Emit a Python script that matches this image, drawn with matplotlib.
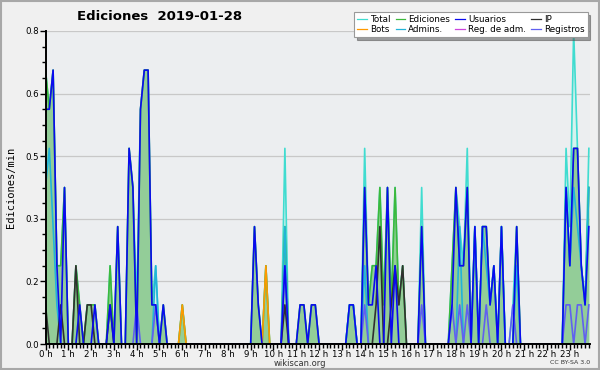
import numpy as np
import matplotlib
matplotlib.use('Agg')
import matplotlib.pyplot as plt
from matplotlib.patches import Rectangle

# edits per 10-minute bin, one row per hour (6 bins each)
total_10min = [
    7, 6, 7, 2, 2, 4,   0, 0, 2, 1, 0, 1,   1, 1, 0, 0, 0, 2,   0, 3, 0, 0, 5, 4,
    1, 6, 7, 7, 1, 2,   0, 1, 0, 0, 0, 0,   1, 0, 0, 0, 0, 0,   0, 0, 0, 0, 0, 0,
    0, 0, 0, 0, 0, 0,   0, 3, 1, 0, 2, 0,   0, 0, 0, 5, 0, 0,   0, 1, 1, 0, 1, 1,
    0, 0, 0, 0, 0, 0,   0, 0, 1, 1, 0, 0,   5, 1, 2, 2, 4, 1,   4, 1, 4, 1, 2, 0,
    0, 0, 0, 4, 0, 0,   0, 0, 0, 0, 0, 2,   4, 3, 2, 5, 0, 3,   0, 3, 3, 1, 2, 0,
    3, 0, 0, 1, 3, 0,   0, 0, 0, 0, 0, 0,   0, 0, 0, 0, 0, 5,   3, 8, 5, 2, 1, 5,
]
ediciones_10min = [
    7, 6, 7, 2, 2, 4,   0, 0, 2, 1, 0, 1,   1, 1, 0, 0, 0, 2,   0, 3, 0, 0, 5, 4,
    0, 6, 7, 7, 1, 1,   0, 1, 0, 0, 0, 0,   1, 0, 0, 0, 0, 0,   0, 0, 0, 0, 0, 0,
    0, 0, 0, 0, 0, 0,   0, 3, 1, 0, 2, 0,   0, 0, 0, 3, 0, 0,   0, 1, 1, 0, 1, 1,
    0, 0, 0, 0, 0, 0,   0, 0, 1, 1, 0, 0,   4, 1, 2, 2, 4, 1,   4, 1, 4, 1, 2, 0,
    0, 0, 0, 3, 0, 0,   0, 0, 0, 0, 0, 2,   4, 2, 2, 4, 0, 3,   0, 3, 3, 1, 2, 0,
    3, 0, 0, 0, 3, 0,   0, 0, 0, 0, 0, 0,   0, 0, 0, 0, 0, 4,   2, 5, 5, 2, 1, 4,
]
usuarios_10min = [
    6, 6, 7, 2, 0, 4,   0, 0, 0, 1, 0, 0,   0, 1, 0, 0, 0, 1,   0, 3, 0, 0, 5, 4,
    0, 6, 7, 7, 1, 1,   0, 1, 0, 0, 0, 0,   0, 0, 0, 0, 0, 0,   0, 0, 0, 0, 0, 0,
    0, 0, 0, 0, 0, 0,   0, 3, 1, 0, 0, 0,   0, 0, 0, 2, 0, 0,   0, 1, 1, 0, 1, 1,
    0, 0, 0, 0, 0, 0,   0, 0, 1, 1, 0, 0,   4, 1, 1, 2, 0, 0,   4, 0, 2, 0, 0, 0,
    0, 0, 0, 3, 0, 0,   0, 0, 0, 0, 0, 1,   4, 2, 2, 4, 0, 3,   0, 3, 3, 1, 2, 0,
    3, 0, 0, 0, 3, 0,   0, 0, 0, 0, 0, 0,   0, 0, 0, 0, 0, 4,   2, 5, 5, 2, 1, 3,
]
ip_10min = [
    1, 0, 0, 0, 1, 0,   0, 0, 2, 0, 0, 1,   1, 0, 0, 0, 0, 1,   0, 0, 0, 0, 0, 0,
    0, 0, 0, 0, 0, 0,   0, 0, 0, 0, 0, 0,   0, 0, 0, 0, 0, 0,   0, 0, 0, 0, 0, 0,
    0, 0, 0, 0, 0, 0,   0, 0, 0, 0, 0, 0,   0, 0, 0, 1, 0, 0,   0, 0, 0, 0, 0, 0,
    0, 0, 0, 0, 0, 0,   0, 0, 0, 0, 0, 0,   0, 0, 0, 1, 3, 0,   0, 1, 2, 1, 2, 0,
    0, 0, 0, 0, 0, 0,   0, 0, 0, 0, 0, 0,   0, 0, 0, 0, 0, 0,   0, 0, 0, 0, 0, 0,
    0, 0, 0, 0, 0, 0,   0, 0, 0, 0, 0, 0,   0, 0, 0, 0, 0, 0,   0, 0, 0, 0, 0, 0,
]
bots_10min = [0] * 144
bots_10min[36] = 1
bots_10min[58] = 2
admins_10min = [
    4, 5, 3, 1, 0, 0,   0, 0, 0, 0, 0, 0,   0, 0, 0, 0, 0, 0,   0, 0, 0, 0, 0, 0,
    0, 0, 0, 0, 0, 2,   0, 0, 0, 0, 0, 0,   0, 0, 0, 0, 0, 0,   0, 0, 0, 0, 0, 0,
    0, 0, 0, 0, 0, 0,   0, 0, 0, 0, 0, 0,   0, 0, 0, 3, 0, 0,   0, 0, 0, 0, 0, 0,
    0, 0, 0, 0, 0, 0,   0, 0, 1, 1, 0, 0,   2, 0, 0, 0, 0, 0,   0, 0, 0, 0, 0, 0,
    0, 0, 0, 0, 0, 0,   0, 0, 0, 0, 0, 0,   0, 3, 0, 0, 0, 3,   0, 3, 2, 1, 2, 0,
    3, 0, 0, 0, 2, 0,   0, 0, 0, 0, 0, 0,   0, 0, 0, 0, 0, 4,   2, 4, 3, 2, 1, 4,
]
reg_adm_10min = [0] * 144
registros_10min = [
    0, 0, 0, 0, 0, 0,   0, 0, 0, 0, 0, 0,   0, 0, 0, 0, 0, 0,   0, 0, 0, 0, 0, 0,
    1, 0, 0, 0, 0, 1,   0, 0, 0, 0, 0, 0,   0, 0, 0, 0, 0, 0,   0, 0, 0, 0, 0, 0,
    0, 0, 0, 0, 0, 0,   0, 0, 0, 0, 0, 0,   0, 0, 0, 2, 0, 0,   0, 0, 0, 0, 0, 0,
    0, 0, 0, 0, 0, 0,   0, 0, 0, 0, 0, 0,   1, 0, 0, 0, 0, 0,   0, 0, 0, 0, 0, 0,
    0, 0, 0, 1, 0, 0,   0, 0, 0, 0, 0, 1,   0, 1, 0, 1, 0, 0,   0, 0, 1, 0, 0, 0,
    0, 0, 0, 1, 0, 0,   0, 0, 0, 0, 0, 0,   0, 0, 0, 0, 0, 1,   1, 0, 1, 1, 0, 1,
]
hour_labels = ['%d h' % h for h in range(24)]

bins = np.arange(144)


def per_min(counts):
    return np.array(counts) / 10.0


fig = plt.figure(figsize=(6, 3.7), dpi=100, facecolor='#f0f0f0')
fig.patches.append(Rectangle((0.002, 0.003), 0.996, 0.994, transform=fig.transFigure,
                             fill=False, edgecolor='#a8a8a8', linewidth=1.5))
ax = fig.add_axes([45.5 / 600, 1 - 344 / 370, (590 - 45.5) / 600, 313 / 370])
ax.set_facecolor('#eceef0')

yt = np.arange(0, 0.81, 0.16)
for v in yt[1:]:
    ax.axhline(v, color='#c8c8c8', lw=0.9, zorder=0)

tot = per_min(total_10min)
ed = per_min(ediciones_10min)
ax.fill_between(bins, tot, color='#d6f2ee', lw=0, zorder=1)
ax.plot(bins, tot, color='#40dcd0', lw=1.2, zorder=2, label='Total')
ax.fill_between(bins, ed, color='#8cc98f', alpha=0.9, lw=0, zorder=3)
ax.plot(bins, ed, color='#3cb93c', lw=1.2, zorder=4, label='Ediciones')
ax.plot(bins, per_min(bots_10min), color='#ff9900', lw=1.2, zorder=5, label='Bots')
ax.plot(bins, per_min(admins_10min), color='#22b4d8', lw=1.2, zorder=5, label='Admins.')
ax.plot(bins, per_min(reg_adm_10min), color='#cc44dd', lw=1.2, zorder=5, label='Reg. de adm.')
ax.plot(bins, per_min(registros_10min), color='#6060f0', lw=1.2, zorder=5, label='Registros')
ax.plot(bins, per_min(ip_10min), color='#303030', lw=1.2, zorder=6, label='IP')
ax.plot(bins, per_min(usuarios_10min), color='#0a0af0', lw=1.2, zorder=7, label='Usuarios')

ax.set_xlim(0, 143.3)
ax.set_ylim(0, 0.8)
ax.set_yticks(yt)
ax.set_yticklabels(['%.1f' % v for v in yt])
ax.set_yticks(np.arange(0, 0.81, 0.04), minor=True)
ax.set_xticks(np.arange(0, 144, 6))
ax.set_xticklabels(hour_labels)
ax.set_xticks(bins, minor=True)
ax.tick_params(axis='both', which='major', labelsize=6.2, length=4, width=1, pad=0.5, color='black')
ax.tick_params(axis='both', which='minor', length=3, width=1)
for s in ['top', 'right']:
    ax.spines[s].set_visible(False)
for s in ['left', 'bottom']:
    ax.spines[s].set_linewidth(1.4)
    ax.spines[s].set_zorder(10)

ax.set_ylabel('Ediciones/min', fontsize=7.5, family='DejaVu Sans Mono', labelpad=7)
fig.text(160 / 600, 1 - 17 / 370, 'Ediciones  2019-01-28', ha='center', va='center',
         fontsize=9.5, fontweight='bold')
fig.text(300 / 600, 1 - 363 / 370, 'wikiscan.org', ha='center', va='center', fontsize=6, color='#333333')
fig.text(590 / 600, 1 - 363 / 370, 'CC BY-SA 3.0', ha='right', va='center', fontsize=4.5, color='#333333')

h, l = ax.get_legend_handles_labels()
order = ['Total', 'Bots', 'Ediciones', 'Admins.', 'Usuarios', 'Reg. de adm.', 'IP', 'Registros']
hd = dict(zip(l, h))
leg = fig.legend([hd[k] for k in order], order, ncol=4, loc='upper right',
                 bbox_to_anchor=(592 / 600, 1 - 8 / 370), fontsize=6.3, frameon=True,
                 fancybox=False, shadow=True, handlelength=1.1, handletextpad=0.35,
                 columnspacing=0.6, labelspacing=0.1, borderpad=0.35)
leg.get_frame().set_edgecolor('#999999')
leg.get_frame().set_linewidth(0.8)
for line in leg.get_lines():
    line.set_linewidth(0.9)

plt.savefig('out.png', dpi=100, facecolor=fig.get_facecolor())
